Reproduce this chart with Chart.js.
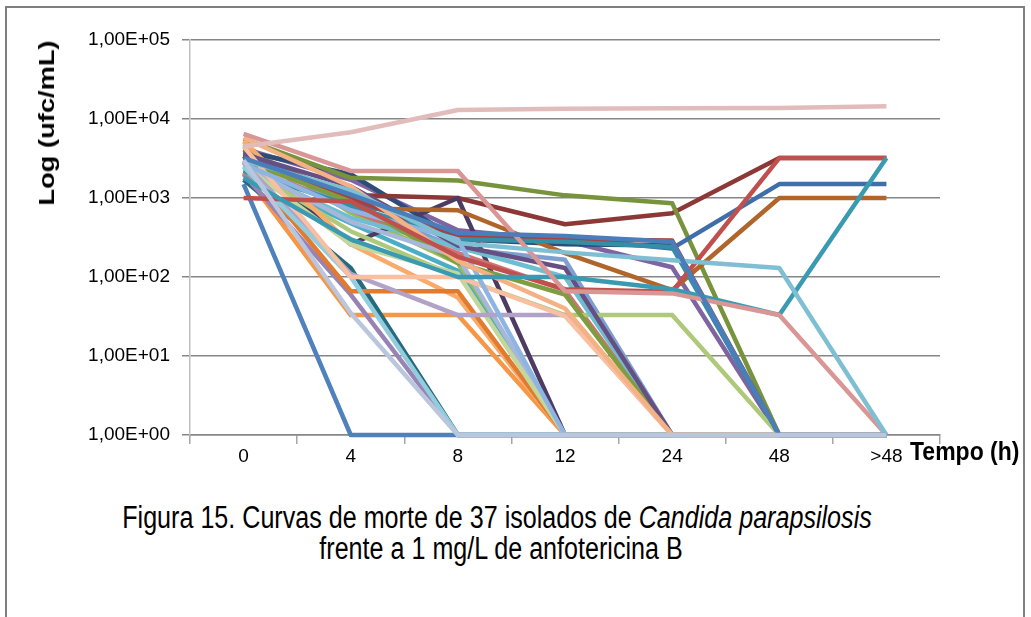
<!DOCTYPE html>
<html lang="pt">
<head>
<meta charset="UTF-8">
<title>Curvas de morte - Candida parapsilosis</title>
<script src="https://cdn.jsdelivr.net/npm/chart.js"></script>
<style>
  body { margin: 0; background: #fff; font-family: 'Liberation Sans', Arial, sans-serif; }
  .page { position: relative; width: 1031px; height: 617px; overflow: hidden; background: #fff; }
  .frame { position: absolute; left: 5px; top: 6px; width: 1016px; height: 660px; border: 2px solid #7f7f7f; }
  .chart-box { position: absolute; left: 0; top: 0; width: 1031px; height: 480px; }
  .y-title {
    position: absolute; left: 47px; top: 123px; white-space: nowrap;
    font-weight: bold; font-size: 22px; line-height: 24px; color: #000;
    transform-origin: 0 0; transform: rotate(-90deg) scaleX(1.24) translate(-50%, -50%);
  }
  .x-title {
    position: absolute; left: 910px; top: 437px; font-weight: bold; font-size: 23px; line-height: 28px; white-space: nowrap;
    transform-origin: 0 50%; transform: scaleY(1.12);
  }
  .caption {
    position: absolute; white-space: nowrap; font-size: 31px; line-height: 31px; color: #000;
    transform-origin: 0 0; transform: scaleX(0.81) translate(-50%, 0);
  }
</style>
</head>
<body>
<div class="page">
  <div class="frame"></div>
  <div class="chart-box"><canvas id="killCurves"></canvas></div>
  <div class="y-title">Log (ufc/mL)</div>
  <div class="x-title">Tempo (h)</div>
  <div class="caption" style="left:497px; top:502px;">Figura 15. Curvas de morte de 37 isolados de <i>Candida parapsilosis</i></div>
  <div class="caption" style="left:501px; top:533px;">frente a 1 mg/L de anfotericina B</div>
</div>

<script>
// tempos de amostragem (h)
const tempos = ['0', '4', '8', '12', '24', '48', '>48'];

// eixo y (log)
const yTickValues = [1, 10, 100, 1000, 10000, 100000];
const yTickLabels = ['1,00E+00', '1,00E+01', '1,00E+02', '1,00E+03', '1,00E+04', '1,00E+05'];

// ufc/mL por isolado
const iso01 = [1500, 1, 1, 1, 1, 1, 1];
const iso02 = [4800, 650, 150, 1, 1, 1, 1];
const iso03 = [4200, 1700, 390, 290, 133, 1, 1];
const iso04 = [2000, 480, 120, 1, 1, 1, 1];
const iso05 = [2100, 33, 33, 1, 1, 1, 1];
const iso06 = [3900, 2000, 300, 260, 250, 1, 1];
const iso07 = [3600, 1090, 1000, 465, 640, 3200, 3200];
const iso08 = [5600, 1800, 1670, 1080, 860, 1, 1];
const iso09 = [3400, 260, 1000, 1, 1, 1, 1];
const iso10 = [1700, 130, 1, 1, 1, 1, 1];
const iso11 = [4100, 740, 700, 200, 68, 1000, 1000];
const iso12 = [2300, 850, 230, 165, 1, 1, 1];
const iso13 = [2900, 700, 200, 68, 1, 1, 1];
const iso14 = [2500, 380, 100, 33, 33, 1, 1];
const iso15 = [2000, 60, 1, 1, 1, 1, 1];
const iso16 = [2400, 560, 240, 100, 1, 1, 1];
const iso17 = [5200, 260, 55, 1, 1, 1, 1];
const iso18 = [3800, 950, 340, 310, 230, 1500, 1500];
const iso19 = [3300, 1000, 320, 300, 290, 1, 1];
const iso20 = [3000, 900, 150, 60, 1, 1, 1];
const iso21 = [3600, 1400, 250, 130, 1, 1, 1];
const iso22 = [2200, 800, 300, 280, 240, 1, 1];
const iso23 = [2900, 66, 66, 1, 1, 1, 1];
const iso24 = [2600, 500, 180, 1, 1, 1, 1];
const iso25 = [2600, 260, 110, 1, 1, 1, 1];
const iso26 = [2800, 110, 33, 33, 1, 1, 1];
const iso27 = [2500, 100, 1, 1, 1, 1, 1];
const iso28 = [4500, 100, 100, 32, 1, 1, 1];
const iso29 = [2700, 700, 300, 1, 1, 1, 1];
const iso30 = [5800, 1400, 160, 40, 1, 1, 1];
const iso31 = [1000, 900, 180, 70, 65, 3200, 3200];
const iso32 = [1800, 300, 100, 100, 70, 33, 3200];
const iso33 = [6500, 2200, 2200, 66, 62, 33, 1];
const iso34 = [3000, 1250, 270, 205, 163, 130, 1];
const iso35 = [3200, 1100, 360, 330, 280, 1, 1];
const iso36 = [4500, 6800, 13000, 13500, 13700, 13800, 14500];
const iso37 = [3000, 35, 1, 1, 1, 1, 1];

const isolados = [iso01, iso02, iso03, iso04, iso05, iso06, iso07, iso08, iso09, iso10,
  iso11, iso12, iso13, iso14, iso15, iso16, iso17, iso18, iso19, iso20,
  iso21, iso22, iso23, iso24, iso25, iso26, iso27, iso28, iso29, iso30,
  iso31, iso32, iso33, iso34, iso35, iso36, iso37];

// cores no estilo Excel 2007
const cores = ['#4F81BD', '#9BBB59', '#8064A2', '#4BACC6', '#F79646', '#2C4D75', '#8C3836', '#77933C',
  '#4D3B62', '#276A7C', '#B0652A', '#7F9FD0', '#CD7371', '#AFC97A', '#9983B5', '#6FBDD1', '#F9AB6B',
  '#3F6FAA', '#A8403D', '#7E9D40', '#664F83', '#358EA6', '#E07B30', '#A5B8DA', '#C3D69B', '#B3A2C7',
  '#93CDDD', '#F8BFA0', '#8EB4E3', '#F4B183', '#C0504D', '#3A9AB2', '#D99694', '#7FBFD3', '#4A7EBB',
  '#E2BCBB', '#B9C6DD'];

const fontFam = "'Liberation Sans', Arial, sans-serif";

document.addEventListener('DOMContentLoaded', function () {
  const ctx = document.getElementById('killCurves').getContext('2d');

  const datasets = isolados.map((vals, i) => ({
    label: 'Isolado ' + (i + 1),
    data: vals,
    borderColor: cores[i],
    backgroundColor: cores[i],
    borderWidth: 4.5,
    pointRadius: 0,
    tension: 0,
    fill: false,
    clip: 8, // don't cut the lines lying on the 1,00E+00 floor
    borderJoinStyle: 'round',
    order: isolados.length - i // later series drawn on top, like Excel
  }));

  new Chart(ctx, {
    type: 'line',
    data: { labels: tempos, datasets: datasets },
    options: {
      responsive: true,
      maintainAspectRatio: false,
      animation: false,
      layout: { padding: { left: 0, right: 91, top: 40, bottom: 0 } },
      scales: {
        x: {
          type: 'category',
          offset: true,
          grid: { offset: true, drawOnChartArea: false, drawTicks: true, tickLength: 9, color: '#a6a6a6', lineWidth: 1.5 },
          border: { color: '#868686', width: 1.5 },
          ticks: { color: '#000', font: { family: fontFam, size: 19 }, padding: 1, maxRotation: 0, autoSkip: false },
          afterFit: s => { s.height = 45; }
        },
        y: {
          type: 'logarithmic',
          min: 1,
          max: 100000,
          afterBuildTicks: s => { s.ticks = yTickValues.map(v => ({ value: v })); },
          grid: { color: '#868686', lineWidth: 1.5, tickLength: 8 },
          border: { color: '#bfbfbf', width: 1.5 },
          ticks: {
            color: '#000',
            font: { family: fontFam, size: 19 },
            padding: 12,
            callback: v => {
              const k = yTickValues.indexOf(v);
              return k >= 0 ? yTickLabels[k] : '';
            }
          },
          afterFit: s => { s.width = 190; }
        }
      },
      plugins: {
        legend: { display: false },
        tooltip: { enabled: false }
      }
    }
  });
});
</script>
</body>
</html>
